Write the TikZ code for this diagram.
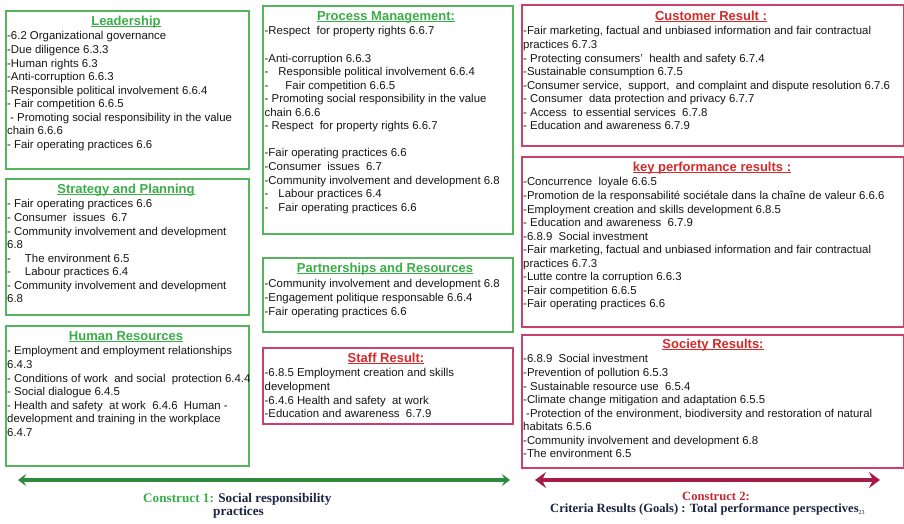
\documentclass[tikz,border=0pt]{standalone}
\usepackage{fontspec}
\setmainfont{Liberation Sans}
\newfontfamily\capfont{Liberation Serif}
\usetikzlibrary{arrows.meta}

\definecolor{boxgreen}{HTML}{55B55C}
\definecolor{titlegreen}{HTML}{3AAE48}
\definecolor{boxred}{HTML}{C8426B}
\definecolor{titlered}{HTML}{D42A2A}
\definecolor{bodytext}{HTML}{161616}
\definecolor{arrowgreen}{HTML}{2E8B3E}
\definecolor{arrowred}{HTML}{A51C45}
\definecolor{capred}{HTML}{C62832}
\definecolor{navy}{HTML}{1C2541}

% heading with a solid underline
\newcommand\headul[1]{\setbox0\hbox{#1}\rlap{\rule[-1.7pt]{\wd0}{0.9pt}}\box0}

\tikzset{
  panel/.style={draw, line width=1.6pt, anchor=north west, inner sep=0pt},
  greenpanel/.style={panel, draw=boxgreen},
  redpanel/.style={panel, draw=boxred},
  % body text: the given point lies just above the baseline of the first line
  body/.style={anchor=north west, yshift=7pt, inner sep=0pt, align=left, text=bodytext,
    font=\fontsize{11.4}{13.55}\selectfont, execute at begin node=\strut},
  headbase/.style={anchor=base, yshift=-1pt, inner sep=0pt, font=\fontsize{13}{15}\selectfont\bfseries},
  ghead/.style={headbase, text=titlegreen},
  rhead/.style={headbase, text=titlered},
  caption/.style={inner sep=0pt, anchor=base west, font=\capfont\fontsize{12.6}{12.7}\selectfont\bfseries},
}

\begin{document}
\begin{tikzpicture}[x=1pt,y=-1pt]
\useasboundingbox (0,0) rectangle (904,523);
\path[fill=white] (0,0) rectangle (904,523);

% ---------- left column ----------
\node[greenpanel, minimum width=243pt, minimum height=158pt] (lead) at (5,10) {};
\node[ghead] (leadT) at (126,24.5) {\headul{Leadership}};
\node[body] (leadB) at (7,38.5) {-6.2 Organizational governance\\
-Due diligence 6.3.3\\
-Human rights 6.3\\
-Anti-corruption 6.6.3\\
-Responsible political involvement 6.6.4\\
- Fair competition 6.6.5\\
\hspace*{3pt}- Promoting social responsibility in the value\\
chain 6.6.6\\
- Fair operating practices 6.6};

\node[greenpanel, minimum width=243pt, minimum height=136pt] (strat) at (5,178) {};
\node[ghead] (stratT) at (126,192.5) {\headul{Strategy and Planning}};
\node[body] (stratB) at (7,206.5) {- Fair operating practices 6.6\\
- Consumer\ \ issues\ \ 6.7\\
- Community involvement and development\\
6.8\\
-\hspace*{14pt}The environment 6.5\\
-\hspace*{14pt}Labour practices 6.4\\
- Community involvement and development\\
6.8};

\node[greenpanel, minimum width=243pt, minimum height=140pt] (hr) at (5,325) {};
\node[ghead] (hrT) at (126,339) {\headul{Human Resources}};
\node[body] (hrB) at (7,353.5) {- Employment and employment relationships\\
6.4.3\\
- Conditions of work\ \ and social\ \ protection 6.4.4\\
- Social dialogue 6.4.5\\
- Health and safety\ \ at work\ \ 6.4.6\ \ Human -\\
development and training in the workplace\\
6.4.7};

% ---------- middle column ----------
\node[greenpanel, minimum width=250pt, minimum height=228pt] (proc) at (262,5) {};
\node[ghead] (procT) at (386,19) {\headul{Process Management:}};
\node[body] (procB) at (264.5,33.5) {-Respect\ \ for property rights 6.6.7\\
\mbox{}\\
-Anti-corruption 6.6.3\\
-\hspace*{10pt}Responsible political involvement 6.6.4\\
-\hspace*{17pt}Fair competition 6.6.5\\
- Promoting social responsibility in the value\\
chain 6.6.6\\
- Respect\ \ for property rights 6.6.7\\
\mbox{}\\
-Fair operating practices 6.6\\
-Consumer\ \ issues\ \ 6.7\\
-Community involvement and development 6.8\\
-\hspace*{10pt}Labour practices 6.4\\
-\hspace*{10pt}Fair operating practices 6.6};

\node[greenpanel, minimum width=250pt, minimum height=74pt] (part) at (262,257) {};
\node[ghead] (partT) at (385,271.5) {\headul{Partnerships and Resources}};
\node[body] (partB) at (264.5,286.5) {-Community involvement and development 6.8\\
-Engagement politique responsable 6.6.4\\
-Fair operating practices 6.6};

\node[redpanel, minimum width=250pt, minimum height=76pt] (staff) at (262,347) {};
\node[rhead] (staffT) at (386,361) {\headul{Staff Result:}};
\node[body] (staffB) at (264.5,375.5) {-6.8.5 Employment creation and skills\\
development\\
-6.4.6 Health and safety\ \ at work\\
-Education and awareness\ \ 6.7.9};

% ---------- right column ----------
\node[redpanel, minimum width=382pt, minimum height=141pt] (cust) at (521,4) {};
\node[rhead] (custT) at (711,19.5) {\headul{Customer Result :}};
\node[body] (custB) at (523,33.5) {-Fair marketing, factual and unbiased information and fair contractual\\
practices 6.7.3\\
- Protecting consumers’\ \ health and safety 6.7.4\\
-Sustainable consumption 6.7.5\\
-Consumer service,\ \ support,\ \ and complaint and dispute resolution 6.7.6\\
- Consumer\ \ data protection and privacy 6.7.7\\
- Access\ \ to essential services\ \ 6.7.8\\
- Education and awareness 6.7.9};

\node[redpanel, minimum width=382pt, minimum height=170pt] (kpr) at (521,156) {};
\node[rhead] (kprT) at (712,170) {\headul{key performance results :}};
\node[body] (kprB) at (523,184.5) {-Concurrence\ \ loyale 6.6.5\\
-Promotion de la responsabilité sociétale dans la chaîne de valeur 6.6.6\\
-Employment creation and skills development 6.8.5\\
- Education and awareness\ \ 6.7.9\\
-6.8.9\ \ Social investment\\
-Fair marketing, factual and unbiased information and fair contractual\\
practices 6.7.3\\
-Lutte contre la corruption 6.6.3\\
-Fair competition 6.6.5\\
-Fair operating practices 6.6};

\node[redpanel, minimum width=382pt, minimum height=133pt] (soc) at (521,334) {};
\node[rhead] (socT) at (713,347) {\headul{Society Results:}};
\node[body] (socB) at (523,361.5) {-6.8.9\ \ Social investment\\
-Prevention of pollution 6.5.3\\
- Sustainable resource use\ \ 6.5.4\\
-Climate change mitigation and adaptation 6.5.5\\
\hspace*{3pt}-Protection of the environment, biodiversity and restoration of natural\\
habitats 6.5.6\\
-Community involvement and development 6.8\\
-The environment 6.5};

% ---------- construct arrows ----------
\coordinate (gL) at (18,480);
\coordinate (gR) at (510,480);
\draw[arrowgreen, line width=3.2pt,
  {Stealth[length=8pt,width=12pt,inset=3pt]}-{Stealth[length=8pt,width=12pt,inset=3pt]}] (gL) -- (gR);

\coordinate (rL) at (535,480);
\coordinate (rR) at (880,480);
\draw[arrowred, line width=3.6pt,
  {Stealth[length=11pt,width=16pt,inset=4pt]}-{Stealth[length=11pt,width=16pt,inset=4pt]}] (rL) -- (rR);

% ---------- captions ----------
\node[caption, font=\capfont\fontsize{13.2}{13}\selectfont\bfseries] (c1) at (143,502.3)
  {\textcolor{titlegreen}{Construct 1:} \textcolor{navy}{Social responsibility}};
\node[caption, font=\capfont\fontsize{13.2}{13}\selectfont\bfseries, text=navy] (c1b) at (213,515) {practices};
\node[caption, anchor=base, text=capred] (c2) at (716,500) {Construct 2:};
\node[caption, text=navy] (c2b) at (550,512.5)
  {Criteria Results (Goals) : Total performance perspectives{\mdseries\fontsize{6}{7}\selectfont\raisebox{-1.5pt}{23}}};
\end{tikzpicture}
\end{document}
